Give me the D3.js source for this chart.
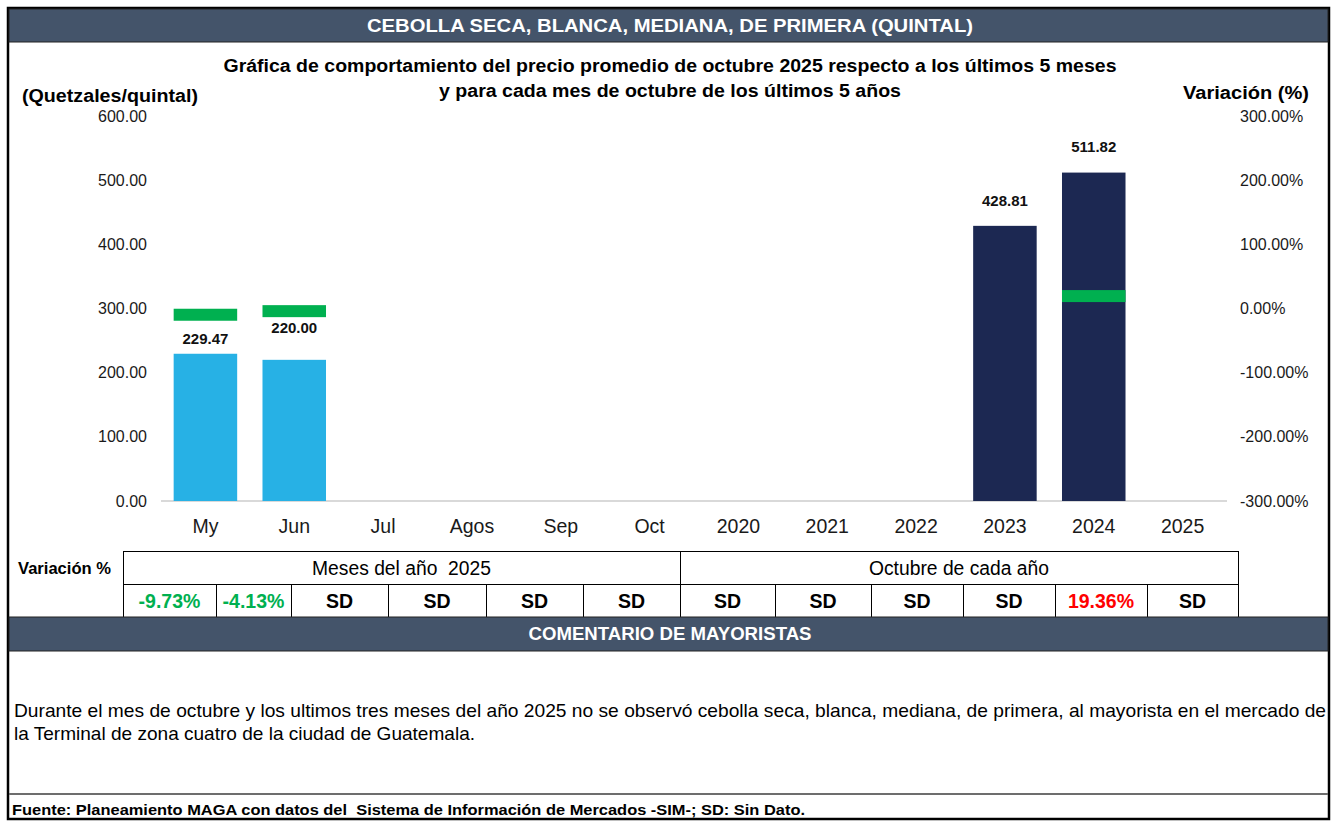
<!DOCTYPE html>
<html>
<head>
<meta charset="utf-8">
<script src="https://cdn.jsdelivr.net/npm/d3@7"></script>
<style>
  body { margin: 0; background: #fff; }
  svg { display: block; font-family: "Liberation Sans", Arial, sans-serif; }
  text { white-space: pre; }
</style>
</head>
<body>
<svg id="chart" width="1336" height="822"></svg>
<script>
// data
var categories = ["My", "Jun", "Jul", "Agos", "Sep", "Oct", "2020", "2021", "2022", "2023", "2024", "2025"];
var prices = [229.47, 220.00, null, null, null, null, null, null, null, 428.81, 511.82, null];
var variations = [-9.73, -4.13, null, null, null, null, null, null, null, null, 19.36, null]; // percent
var tableValues = ["-9.73%", "-4.13%", "SD", "SD", "SD", "SD", "SD", "SD", "SD", "SD", "19.36%", "SD"];
var tableGroups = ["Meses del año  2025", "Octubre de cada año"];
var leftTicks = [0, 100, 200, 300, 400, 500, 600];
var rightTicks = [-300, -200, -100, 0, 100, 200, 300];

var title = "CEBOLLA SECA, BLANCA, MEDIANA, DE PRIMERA (QUINTAL)";
var subtitle = ["Gráfica de comportamiento del precio promedio de octubre 2025 respecto a los últimos 5 meses",
  "y para cada mes de octubre de los últimos 5 años"];
var comment = ["Durante el mes de octubre y los ultimos tres meses del año 2025 no se observó cebolla seca, blanca, mediana, de primera, al mayorista en el mercado de",
  "la Terminal de zona cuatro de la ciudad de Guatemala."];
var source = "Fuente: Planeamiento MAGA con datos del  Sistema de Información de Mercados -SIM-; SD: Sin Dato.";

var svg = d3.select('#chart');
var headFill = '#44546a';
var monthBlue = '#27b1e5', yearNavy = '#1c2852', green = '#00b050';

// the original text is a bit wider than Arial at the same height, so stretch to the measured width
function fit(sel, w) {
  sel.attr('textLength', w).attr('lengthAdjust', 'spacingAndGlyphs');
}

// frame and header bands
svg.append('rect')
  .attr('x', 8).attr('y', 8).attr('width', 1321).attr('height', 811)
  .attr('fill', '#fff').attr('stroke', '#000').attr('stroke-width', 2.5);
svg.append('rect')
  .attr('x', 9).attr('y', 9).attr('width', 1319).attr('height', 33)
  .attr('fill', headFill).attr('stroke', '#222').attr('stroke-width', 1);
svg.append('text')
  .attr('x', 670).attr('y', 32)
  .attr('text-anchor', 'middle')
  .attr('fill', '#fff').attr('font-weight', 'bold').attr('font-size', 18.5)
  .text(title)
  .call(fit, 606);

var subW = [893, 462];
svg.selectAll('.subtitle').data(subtitle).enter().append('text')
  .attr('class', 'subtitle')
  .attr('x', 670).attr('y', function(d, i) { return 72 + i * 24.5; })
  .attr('text-anchor', 'middle')
  .attr('font-weight', 'bold').attr('font-size', 18)
  .text(function(d) { return d; })
  .each(function(d, i) { d3.select(this).call(fit, subW[i]); });

svg.append('text')
  .attr('x', 22).attr('y', 102)
  .attr('font-weight', 'bold').attr('font-size', 18)
  .text('(Quetzales/quintal)')
  .call(fit, 176);
svg.append('text')
  .attr('x', 1309).attr('y', 99)
  .attr('text-anchor', 'end')
  .attr('font-weight', 'bold').attr('font-size', 18)
  .text('Variación (%)')
  .call(fit, 126);

// scales
var x = d3.scaleBand().domain(categories).range([161, 1227]).paddingInner(0.285).paddingOuter(0.1425);
var y = d3.scaleLinear().domain([0, 600]).range([501, 116]);
var y2 = d3.scaleLinear().domain([-300, 300]).range([501, 116]);

// axes
var loc = d3.formatLocale({decimal: '.', thousands: ',', grouping: [3], currency: ['', ''], minus: '-'});
var fmt = loc.format('.2f');
var leftAxis = svg.append('g')
  .attr('transform', 'translate(161,0)')
  .call(d3.axisLeft(y).tickValues(leftTicks).tickSize(0).tickPadding(14).tickFormat(fmt));
var rightAxis = svg.append('g')
  .attr('transform', 'translate(1227,0)')
  .call(d3.axisRight(y2).tickValues(rightTicks).tickSize(0).tickPadding(13)
    .tickFormat(function(d) { return fmt(d) + '%'; }));
var bottomAxis = svg.append('g')
  .attr('transform', 'translate(0,501)')
  .call(d3.axisBottom(x).tickSize(0).tickPadding(18));

[leftAxis, rightAxis, bottomAxis].forEach(function(g) {
  g.select('.domain').remove();
  g.selectAll('text').attr('fill', '#1a1a1a');
});
leftAxis.selectAll('text').attr('font-size', 16).attr('font-family', null);
rightAxis.selectAll('text').attr('font-size', 16).attr('font-family', null);
bottomAxis.selectAll('text').attr('font-size', 19.5).attr('font-family', null);

svg.append('line')
  .attr('x1', 161).attr('x2', 1227)
  .attr('y1', y(0)).attr('y2', y(0))
  .attr('stroke', '#d9d9d9').attr('stroke-width', 2);

// price bars
var rows = categories.map(function(c, i) {
  return {cat: c, price: prices[i], vari: variations[i], year: i >= 6};
});
var priced = rows.filter(function(d) { return d.price != null; });
svg.selectAll('.bar').data(priced)
  .enter().append('rect')
  .attr('class', 'bar')
  .attr('x', function(d) { return x(d.cat); })
  .attr('y', function(d) { return y(d.price); })
  .attr('width', x.bandwidth())
  .attr('height', function(d) { return y(0) - y(d.price); })
  .attr('fill', function(d) { return d.year ? yearNavy : monthBlue; });

// label lift above bar top (labels were nudged by hand in the original)
var labelLift = {My: 9.5, Jun: 26.5, '2023': 19.5, '2024': 20.5};
svg.selectAll('.val').data(priced)
  .enter().append('text')
  .attr('class', 'val')
  .attr('x', function(d) { return x(d.cat) + x.bandwidth() / 2; })
  .attr('y', function(d) { return y(d.price) - labelLift[d.cat]; })
  .attr('text-anchor', 'middle')
  .attr('font-weight', 'bold').attr('font-size', 15)
  .attr('fill', '#111')
  .text(function(d) { return fmt(d.price); });

// variation markers on the right axis
svg.selectAll('.mark').data(rows.filter(function(d) { return d.vari != null; }))
  .enter().append('rect')
  .attr('class', 'mark')
  .attr('x', function(d) { return x(d.cat); })
  .attr('y', function(d) { return y2(d.vari) - 6; })
  .attr('width', x.bandwidth())
  .attr('height', 12)
  .attr('fill', green);

// variation table (its columns do not line up with the chart bands)
var edges = [123, 216, 291, 388, 486, 583, 680, 775, 871, 963, 1055, 1147, 1238];
var tTop = 551, tMid = 584, tBot = 617;

svg.append('text')
  .attr('x', 18).attr('y', 574)
  .attr('font-weight', 'bold').attr('font-size', 16.5)
  .text('Variación %')
  .call(fit, 93);

var table = svg.append('g').attr('stroke', '#000').attr('stroke-width', 1);
table.append('line').attr('x1', 123).attr('x2', 1238).attr('y1', tTop + 0.5).attr('y2', tTop + 0.5);
table.append('line').attr('x1', 123).attr('x2', 1238).attr('y1', tMid + 0.5).attr('y2', tMid + 0.5);
table.selectAll('.vl').data(edges).enter().append('line')
  .attr('x1', function(d) { return d + 0.5; }).attr('x2', function(d) { return d + 0.5; })
  .attr('y1', function(d, i) { return (i == 0 || i == 6 || i == 12) ? tTop : tMid; })
  .attr('y2', tBot);

var grpW = [179, 180];
svg.selectAll('.grp').data(tableGroups).enter().append('text')
  .attr('x', function(d, i) { return (edges[i * 6] + edges[i * 6 + 6]) / 2; })
  .attr('y', 575)
  .attr('text-anchor', 'middle')
  .attr('font-size', 19.5)
  .text(function(d) { return d; })
  .each(function(d, i) { d3.select(this).call(fit, grpW[i]); });

svg.selectAll('.cell').data(tableValues).enter().append('text')
  .attr('x', function(d, i) { return (edges[i] + edges[i + 1]) / 2; })
  .attr('y', 608)
  .attr('text-anchor', 'middle')
  .attr('font-weight', 'bold').attr('font-size', 19.5)
  .attr('fill', function(d, i) {
    if (d == 'SD') return '#000';
    return variations[i] < 0 ? green : '#ff0000';
  })
  .text(function(d) { return d; });

// comment section
svg.append('rect')
  .attr('x', 9).attr('y', tBot).attr('width', 1319).attr('height', 34)
  .attr('fill', headFill).attr('stroke', '#222').attr('stroke-width', 1);
svg.append('text')
  .attr('x', 670).attr('y', 640)
  .attr('text-anchor', 'middle')
  .attr('fill', '#fff').attr('font-weight', 'bold').attr('font-size', 17.5)
  .text('COMENTARIO DE MAYORISTAS')
  .call(fit, 283);

var commentW = [1312, 461];
svg.selectAll('.comment').data(comment).enter().append('text')
  .attr('x', 14).attr('y', function(d, i) { return 717 + i * 23; })
  .attr('font-size', 18.5)
  .text(function(d) { return d; })
  .each(function(d, i) { d3.select(this).call(fit, commentW[i]); });

svg.append('line')
  .attr('x1', 9).attr('x2', 1328).attr('y1', 794).attr('y2', 794)
  .attr('stroke', '#6d6d6d').attr('stroke-width', 2);
svg.append('text')
  .attr('x', 12).attr('y', 815)
  .attr('font-weight', 'bold').attr('font-size', 15)
  .text(source)
  .call(fit, 793);
</script>
</body>
</html>
